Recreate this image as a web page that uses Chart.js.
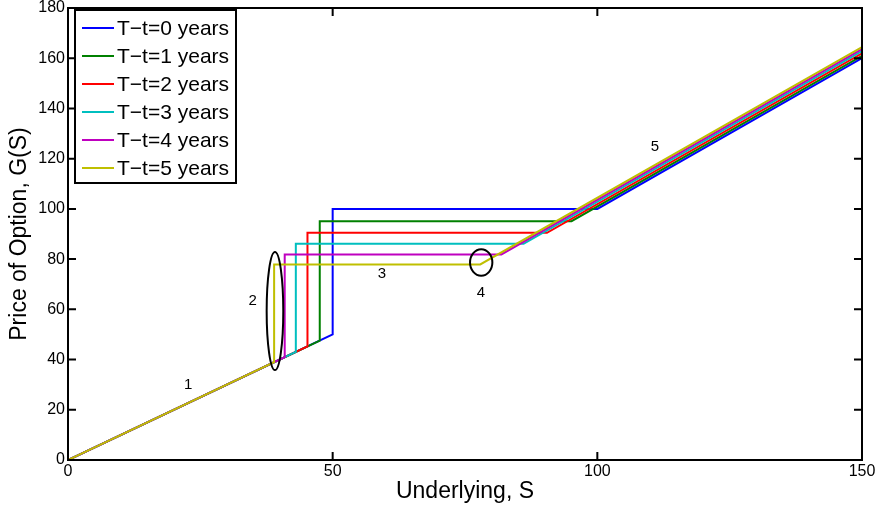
<!DOCTYPE html>
<html>
<head>
<meta charset="utf-8">
<script src="https://cdn.jsdelivr.net/npm/chart.js@4.4.1/dist/chart.umd.min.js"></script>
<style>
html,body{margin:0;padding:0;background:#fff;}
#wrap{width:878px;height:511px;}
</style>
</head>
<body>
<div id="wrap"><canvas id="c" width="878" height="511"></canvas></div>
<script>
// ---- data ----
const seriesLabels = ['T\u2212t=0 years','T\u2212t=1 years','T\u2212t=2 years','T\u2212t=3 years','T\u2212t=4 years','T\u2212t=5 years'];
const seriesColors = ['#0000ff','#008000','#ff0000','#00bfbf','#bf00bf','#bfbf00'];
const startS = 0, startG = 0;
const jumpS    = [50.00, 47.56, 45.24, 43.04, 40.94, 38.94];   // S where the jump happens
const jumpLowG = [50.00, 47.56, 45.24, 43.04, 40.94, 38.94];   // G just below the jump
const plateauG = [100.00, 95.12, 90.48, 86.07, 81.87, 77.88];  // flat level after the jump
const kinkS    = [100.00, 95.12, 90.48, 86.07, 81.87, 77.88];  // S where the flat part ends
const endS = 150;
const endG     = [160.00, 160.98, 161.90, 162.79, 163.63, 164.42]; // G at S=150
const xTicks = [0, 50, 100, 150];
const yTicks = [0, 20, 40, 60, 80, 100, 120, 140, 160, 180];

// annotations (data coordinates)
const noteText = ['1','2','3','4','5'];
const noteX = [22.7, 34.9, 59.3, 78.0, 110.9];
const noteY = [29.9, 63.3, 74.1, 66.5, 124.6];
const ellCX = [39.1, 78.06];
const ellCY = [59.3, 78.65];
const ellRX = [1.57, 2.11];
const ellRY = [23.5, 5.26];

const FONT = '"Liberation Sans", Arial, Helvetica, sans-serif';

const datasets = seriesLabels.map((lab, i) => ({
  label: lab,
  data: [
    {x: startS, y: startG},
    {x: jumpS[i], y: jumpLowG[i]},
    {x: jumpS[i], y: plateauG[i]},
    {x: kinkS[i], y: plateauG[i]},
    {x: endS, y: endG[i]}
  ],
  borderColor: seriesColors[i],
  backgroundColor: seriesColors[i],
  borderWidth: 2,
  pointRadius: 0,
  tension: 0,
  fill: false,
  order: seriesLabels.length - i
}));

const decor = {
  id: 'decor',
  afterDatasetsDraw(chart) {
    const ctx = chart.ctx, a = chart.chartArea;
    const xs = chart.scales.x, ys = chart.scales.y;
    ctx.save();
    // ellipses
    ctx.strokeStyle = '#000';
    ctx.lineWidth = 2;
    for (let i = 0; i < ellCX.length; i++) {
      const cx = xs.getPixelForValue(ellCX[i]);
      const cy = ys.getPixelForValue(ellCY[i]);
      const rx = Math.abs(xs.getPixelForValue(ellCX[i] + ellRX[i]) - cx);
      const ry = Math.abs(ys.getPixelForValue(ellCY[i] + ellRY[i]) - cy);
      ctx.beginPath();
      ctx.ellipse(cx, cy, rx, ry, 0, 0, Math.PI * 2);
      ctx.stroke();
    }
    // note labels
    ctx.fillStyle = '#000';
    ctx.font = '15px ' + FONT;
    ctx.textAlign = 'center';
    ctx.textBaseline = 'middle';
    for (let i = 0; i < noteText.length; i++) {
      ctx.fillText(noteText[i], xs.getPixelForValue(noteX[i]), ys.getPixelForValue(noteY[i]));
    }
    // box
    ctx.lineWidth = 2;
    ctx.strokeStyle = '#000';
    ctx.strokeRect(a.left, a.top, a.right - a.left, a.bottom - a.top);
    // inward ticks
    const tl = 8;
    ctx.beginPath();
    xTicks.forEach(v => {
      const p = xs.getPixelForValue(v);
      ctx.moveTo(p, a.bottom); ctx.lineTo(p, a.bottom - tl);
      ctx.moveTo(p, a.top); ctx.lineTo(p, a.top + tl);
    });
    yTicks.forEach(v => {
      const p = ys.getPixelForValue(v);
      ctx.moveTo(a.left, p); ctx.lineTo(a.left + tl, p);
      ctx.moveTo(a.right, p); ctx.lineTo(a.right - tl, p);
    });
    ctx.stroke();
    // legend
    const lx = 75, ly = 10, lw = 161, lh = 173;
    ctx.fillStyle = '#fff';
    ctx.fillRect(lx, ly, lw, lh);
    ctx.strokeRect(lx, ly, lw, lh);
    ctx.font = '21px ' + FONT;
    ctx.textAlign = 'left';
    ctx.textBaseline = 'middle';
    chart.data.datasets.forEach((ds, i) => {
      const y = 28 + i * 28;
      ctx.strokeStyle = ds.borderColor;
      ctx.lineWidth = 2;
      ctx.beginPath();
      ctx.moveTo(82, y); ctx.lineTo(114, y);
      ctx.stroke();
      ctx.fillStyle = '#000';
      ctx.fillText(ds.label, 117, y + 1);
    });
    ctx.restore();
  }
};

new Chart(document.getElementById('c'), {
  type: 'line',
  data: { datasets },
  options: {
    responsive: false,
    devicePixelRatio: 1,
    animation: false,
    layout: { padding: { top: 8, right: 16, left: 0, bottom: 0 } },
    plugins: { legend: { display: false }, tooltip: { enabled: false } },
    scales: {
      x: {
        type: 'linear', min: 0, max: 150,
        afterBuildTicks: s => { s.ticks = xTicks.map(v => ({value: v})); },
        afterFit: s => { s.height = 51; },
        grid: { display: false, drawTicks: false },
        border: { display: false },
        ticks: { color: '#000', font: { family: FONT, size: 16 }, padding: 2, maxRotation: 0, autoSkip: false },
        title: { display: true, text: 'Underlying, S', color: '#000', font: { family: FONT, size: 23 }, padding: { top: 0, bottom: 6 } }
      },
      y: {
        type: 'linear', min: 0, max: 180,
        afterBuildTicks: s => { s.ticks = yTicks.map(v => ({value: v})); },
        afterFit: s => { s.width = 68; s.paddingTop = 0; s.paddingBottom = 0; },
        grid: { display: false, drawTicks: false },
        border: { display: false },
        ticks: { color: '#000', font: { family: FONT, size: 16, lineHeight: 0.8 }, padding: 3, autoSkip: false },
        title: { display: true, text: 'Price of Option, G(S)', color: '#000', font: { family: FONT, size: 23 }, padding: { top: 6, bottom: 0 } }
      }
    }
  },
  plugins: [decor]
});
</script>
</body>
</html>
